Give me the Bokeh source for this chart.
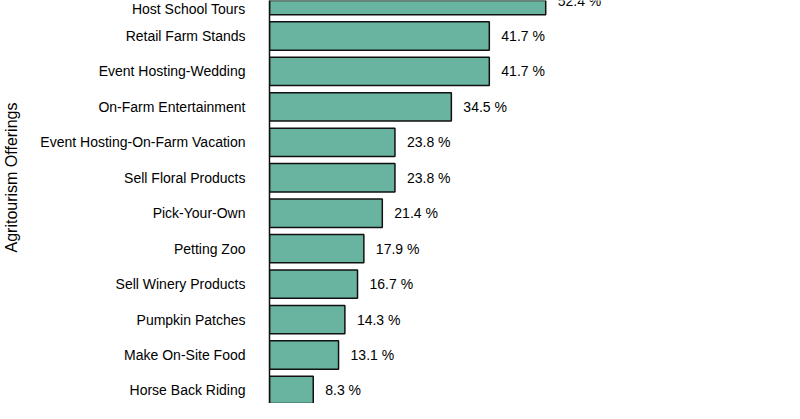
from bokeh.plotting import figure
from bokeh.models import ColumnDataSource, Range1d, FixedTicker, Title
from bokeh.core.properties import value
from bokeh.embed import file_html
from bokeh.resources import INLINE

# offerings listed bottom to top
offerings = [
    "Horse Back Riding",
    "Make On-Site Food",
    "Pumpkin Patches",
    "Sell Winery Products",
    "Petting Zoo",
    "Pick-Your-Own",
    "Sell Floral Products",
    "Event Hosting-On-Farm Vacation",
    "On-Farm Entertainment",
    "Event Hosting-Wedding",
    "Retail Farm Stands",
    "Host School Tours",
]
percent = [8.3, 13.1, 14.3, 16.7, 17.9, 21.4, 23.8, 23.8, 34.5, 41.7, 41.7, 52.4]

FONT = "Liberation Sans"

rows = list(range(len(offerings)))
source = ColumnDataSource(
    data=dict(
        row=rows,
        name=offerings,
        pct=percent,
        label=[f"{v:.1f} %" for v in percent],
    )
)

p = figure(
    width=784,
    height=403,
    x_range=Range1d(0, 97.7),
    y_range=Range1d(-0.367, 11.0),
    x_axis_location=None,
    toolbar_location=None,
    output_backend="svg",
    min_border_left=269,
    min_border_right=0,
    min_border_top=0,
    min_border_bottom=0,
)

p.hbar(
    y="row",
    right="pct",
    left=0,
    height=0.8,
    source=source,
    fill_color="#69b3a1",
    line_color="#111111",
    line_width=1.5,
)

p.text(
    x="pct",
    y="row",
    text="label",
    source=source,
    x_offset=12,
    text_baseline="middle",
    text_align="left",
    text_font=value(FONT),
    text_font_size="14px",
    text_color="#000000",
)

# y axis with offering names
p.yaxis.ticker = FixedTicker(ticks=rows)
p.yaxis.major_label_overrides = {i: name for i, name in zip(rows, offerings)}
p.yaxis.major_label_text_font = FONT
p.yaxis.major_label_text_font_size = "14px"
p.yaxis.major_label_text_color = "#000000"
p.yaxis.major_label_standoff = 24
p.yaxis.major_tick_out = 0
p.yaxis.major_tick_in = 0
p.yaxis.major_tick_line_color = None
p.yaxis.minor_tick_line_color = None
p.yaxis.axis_line_color = "#111111"
p.yaxis.axis_line_width = 1.5
# blank axis label only used as a spacer, pushes the side title to the edge
p.yaxis.axis_label = " "
p.yaxis.axis_label_text_font_size = "1px"
p.yaxis.axis_label_standoff = 10

# axis title sits higher than the frame centre in the original (it was cropped),
# so it goes in as a side title that can be shifted along the axis
ytitle = Title(
    text="Agritourism Offerings",
    align="left",
    offset=151,
    vertical_align="top",
    standoff=4,
    text_font=FONT,
    text_font_size="16px",
    text_font_style="normal",
    text_color="#000000",
)
p.add_layout(ytitle, "left")

p.grid.visible = False
p.outline_line_color = None
p.background_fill_color = "white"
p.border_fill_color = "white"

open("out.html", "w").write(file_html(p, INLINE))
